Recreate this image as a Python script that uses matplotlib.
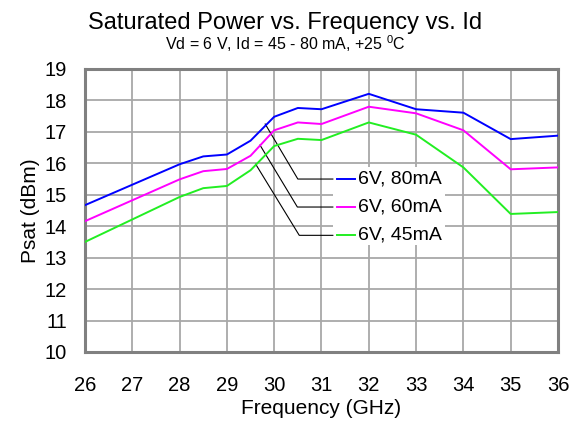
import matplotlib
matplotlib.use('Agg')
import matplotlib.pyplot as plt
from matplotlib.patches import Rectangle

plt.rcParams['font.family'] = ['Liberation Sans', 'DejaVu Sans']

freq = [26, 28, 28.5, 29, 29.5, 30, 30.5, 31, 32, 33, 34, 35, 36]
psat_80mA = [14.67, 15.97, 16.22, 16.28, 16.72, 17.48, 17.76, 17.72, 18.21, 17.72, 17.61, 16.77, 16.88]
psat_60mA = [14.16, 15.49, 15.75, 15.82, 16.24, 17.05, 17.30, 17.25, 17.80, 17.59, 17.05, 15.81, 15.87]
psat_45mA = [13.50, 14.93, 15.21, 15.28, 15.78, 16.55, 16.78, 16.74, 17.30, 16.91, 15.87, 14.39, 14.45]
labels = ['6V, 80mA', '6V, 60mA', '6V, 45mA']
colors = ['#0000ff', '#ff00ff', '#22ee22']

fig = plt.figure(figsize=(5.79, 4.29), dpi=100)
ax = fig.add_axes([0.1468, 0.1795, 0.8169, 0.6597])

ax.set_xlim(26, 36)
ax.set_ylim(10, 19)
ax.set_xticks(range(26, 37))
ax.set_yticks(range(10, 20))
ax.grid(True, color='#a8a8a8', lw=1.3, zorder=0)
ax.set_axisbelow(True)
for s in ax.spines.values():
    s.set_color('#808080')
    s.set_linewidth(2.2)
ax.tick_params(length=0, labelsize=14.5)
ax.tick_params(axis='x', pad=17.5)
ax.tick_params(axis='y', pad=13)

# legend box hides the grid behind it
ax.add_patch(Rectangle((31.24, 13.39), 2.37, 2.49, facecolor='white', edgecolor='none', zorder=1))

series = [psat_80mA, psat_60mA, psat_45mA]
for vals, c in zip(series, colors):
    ax.plot(freq, vals, color=c, lw=1.4, zorder=3)

# leader lines: start on curve, elbow, end at legend
leaders = [((29.81, 17.25), (30.50, 15.50)),
           ((29.70, 16.58), (30.49, 14.61)),
           ((29.61, 15.97), (30.53, 13.71))]
for (p0, p1), lab, c in zip(leaders, labels, colors):
    ax.plot([p0[0], p1[0], 31.24], [p0[1], p1[1], p1[1]], color='black', lw=0.8, zorder=2)
    ax.plot([31.32, 31.71], [p1[1], p1[1]], color=c, lw=1.4, zorder=3)
    ax.text(31.77, p1[1], lab, fontsize=14, va='center', ha='left', zorder=4)

ax.set_xlabel('Frequency (GHz)', fontsize=15, labelpad=3)
ax.set_ylabel('Psat (dBm)', fontsize=15, labelpad=3)

fig.text(0.493, 0.9324, 'Saturated Power vs. Frequency vs. Id', fontsize=17, ha='center', va='baseline')
fig.text(0.493, 0.8834, r'Vd = 6 V, Id = 45 - 80 mA, +25 $^{\mathregular{0}}$C', fontsize=11.5, ha='center', va='baseline')

fig.savefig('out.png', dpi=100)
